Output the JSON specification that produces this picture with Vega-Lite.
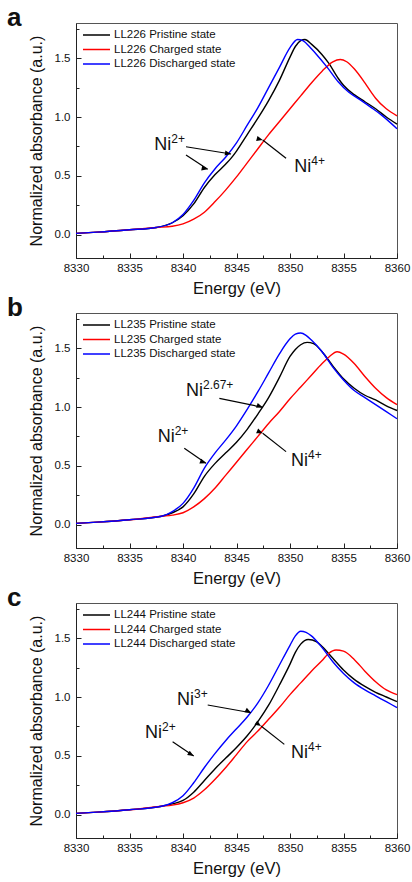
{
"$schema": "https://vega.github.io/schema/vega-lite/v6.json",
"padding": {"left": 6, "top": 4, "right": 4, "bottom": 2},
"bounds": "flush",
"spacing": 55,
"config": {
  "font": "Liberation Sans",
  "view": {"stroke": "#555", "strokeWidth": 1},
  "axis": {"grid": false, "domainColor": "#222", "tickColor": "#222", "labelColor": "#111", "titleColor": "#111", "labelFontSize": 11.5, "titleFontWeight": "normal", "labelFlush": false},
  "legend": {"orient": "top-left", "offset": 6, "title": null, "symbolType": "stroke", "symbolSize": 729, "symbolStrokeWidth": 1.5, "labelFontSize": 11.5, "labelColor": "#111", "labelOffset": 3, "rowPadding": 2.5, "clipHeight": 12, "padding": 0},
  "title": {"fontSize": 26, "fontWeight": "bold", "anchor": "start", "frame": "group", "color": "#111"},
  "line": {"strokeWidth": 1.4, "interpolate": "monotone"}
},
"resolve": {"scale": {"color": "independent"}, "legend": {"color": "independent"}},
"datasets": {
  "curves": [
    {"p":"a","s":"LL226 Pristine state","E":8330,"A":0.01},{"p":"a","s":"LL226 Pristine state","E":8332,"A":0.02},{"p":"a","s":"LL226 Pristine state","E":8335,"A":0.04},{"p":"a","s":"LL226 Pristine state","E":8337.5,"A":0.06},{"p":"a","s":"LL226 Pristine state","E":8339,"A":0.10},{"p":"a","s":"LL226 Pristine state","E":8340,"A":0.16},{"p":"a","s":"LL226 Pristine state","E":8341,"A":0.26},{"p":"a","s":"LL226 Pristine state","E":8342,"A":0.40},{"p":"a","s":"LL226 Pristine state","E":8343,"A":0.51},{"p":"a","s":"LL226 Pristine state","E":8344,"A":0.60},{"p":"a","s":"LL226 Pristine state","E":8344.5,"A":0.65},{"p":"a","s":"LL226 Pristine state","E":8345,"A":0.71},{"p":"a","s":"LL226 Pristine state","E":8346,"A":0.85},{"p":"a","s":"LL226 Pristine state","E":8347,"A":0.99},{"p":"a","s":"LL226 Pristine state","E":8348,"A":1.14},{"p":"a","s":"LL226 Pristine state","E":8349,"A":1.31},{"p":"a","s":"LL226 Pristine state","E":8350,"A":1.51},{"p":"a","s":"LL226 Pristine state","E":8350.5,"A":1.60},{"p":"a","s":"LL226 Pristine state","E":8351,"A":1.65},{"p":"a","s":"LL226 Pristine state","E":8351.4,"A":1.66},{"p":"a","s":"LL226 Pristine state","E":8352,"A":1.62},{"p":"a","s":"LL226 Pristine state","E":8353,"A":1.53},{"p":"a","s":"LL226 Pristine state","E":8353.6,"A":1.46},{"p":"a","s":"LL226 Pristine state","E":8354.5,"A":1.33},{"p":"a","s":"LL226 Pristine state","E":8355,"A":1.27},{"p":"a","s":"LL226 Pristine state","E":8356,"A":1.19},{"p":"a","s":"LL226 Pristine state","E":8357,"A":1.13},{"p":"a","s":"LL226 Pristine state","E":8358,"A":1.07},{"p":"a","s":"LL226 Pristine state","E":8359,"A":1.00},{"p":"a","s":"LL226 Pristine state","E":8360,"A":0.94},
    {"p":"a","s":"LL226 Charged state","E":8330,"A":0.01},{"p":"a","s":"LL226 Charged state","E":8332,"A":0.02},{"p":"a","s":"LL226 Charged state","E":8335,"A":0.04},{"p":"a","s":"LL226 Charged state","E":8337.5,"A":0.06},{"p":"a","s":"LL226 Charged state","E":8339,"A":0.07},{"p":"a","s":"LL226 Charged state","E":8340,"A":0.09},{"p":"a","s":"LL226 Charged state","E":8341,"A":0.13},{"p":"a","s":"LL226 Charged state","E":8342,"A":0.19},{"p":"a","s":"LL226 Charged state","E":8343,"A":0.28},{"p":"a","s":"LL226 Charged state","E":8344,"A":0.38},{"p":"a","s":"LL226 Charged state","E":8345,"A":0.49},{"p":"a","s":"LL226 Charged state","E":8346,"A":0.61},{"p":"a","s":"LL226 Charged state","E":8347,"A":0.73},{"p":"a","s":"LL226 Charged state","E":8348,"A":0.85},{"p":"a","s":"LL226 Charged state","E":8349,"A":0.96},{"p":"a","s":"LL226 Charged state","E":8350,"A":1.07},{"p":"a","s":"LL226 Charged state","E":8351,"A":1.18},{"p":"a","s":"LL226 Charged state","E":8352,"A":1.29},{"p":"a","s":"LL226 Charged state","E":8353,"A":1.39},{"p":"a","s":"LL226 Charged state","E":8354,"A":1.47},{"p":"a","s":"LL226 Charged state","E":8354.7,"A":1.49},{"p":"a","s":"LL226 Charged state","E":8355.3,"A":1.47},{"p":"a","s":"LL226 Charged state","E":8356,"A":1.41},{"p":"a","s":"LL226 Charged state","E":8357,"A":1.29},{"p":"a","s":"LL226 Charged state","E":8357.6,"A":1.21},{"p":"a","s":"LL226 Charged state","E":8358,"A":1.16},{"p":"a","s":"LL226 Charged state","E":8359,"A":1.07},{"p":"a","s":"LL226 Charged state","E":8360,"A":1.01},
    {"p":"a","s":"LL226 Discharged state","E":8330,"A":0.01},{"p":"a","s":"LL226 Discharged state","E":8332,"A":0.02},{"p":"a","s":"LL226 Discharged state","E":8335,"A":0.04},{"p":"a","s":"LL226 Discharged state","E":8337.5,"A":0.06},{"p":"a","s":"LL226 Discharged state","E":8339,"A":0.10},{"p":"a","s":"LL226 Discharged state","E":8340,"A":0.17},{"p":"a","s":"LL226 Discharged state","E":8341,"A":0.29},{"p":"a","s":"LL226 Discharged state","E":8342,"A":0.44},{"p":"a","s":"LL226 Discharged state","E":8343,"A":0.56},{"p":"a","s":"LL226 Discharged state","E":8344,"A":0.66},{"p":"a","s":"LL226 Discharged state","E":8345,"A":0.78},{"p":"a","s":"LL226 Discharged state","E":8346,"A":0.93},{"p":"a","s":"LL226 Discharged state","E":8347,"A":1.08},{"p":"a","s":"LL226 Discharged state","E":8348,"A":1.25},{"p":"a","s":"LL226 Discharged state","E":8349,"A":1.42},{"p":"a","s":"LL226 Discharged state","E":8350,"A":1.59},{"p":"a","s":"LL226 Discharged state","E":8350.7,"A":1.66},{"p":"a","s":"LL226 Discharged state","E":8351.2,"A":1.65},{"p":"a","s":"LL226 Discharged state","E":8352,"A":1.58},{"p":"a","s":"LL226 Discharged state","E":8352.5,"A":1.53},{"p":"a","s":"LL226 Discharged state","E":8353.5,"A":1.42},{"p":"a","s":"LL226 Discharged state","E":8354.5,"A":1.30},{"p":"a","s":"LL226 Discharged state","E":8355.5,"A":1.21},{"p":"a","s":"LL226 Discharged state","E":8356.5,"A":1.15},{"p":"a","s":"LL226 Discharged state","E":8357.6,"A":1.08},{"p":"a","s":"LL226 Discharged state","E":8358.5,"A":1.02},{"p":"a","s":"LL226 Discharged state","E":8360,"A":0.90},
    {"p":"b","s":"LL235 Pristine state","E":8330,"A":0.01},{"p":"b","s":"LL235 Pristine state","E":8332,"A":0.02},{"p":"b","s":"LL235 Pristine state","E":8335,"A":0.04},{"p":"b","s":"LL235 Pristine state","E":8338,"A":0.07},{"p":"b","s":"LL235 Pristine state","E":8339,"A":0.10},{"p":"b","s":"LL235 Pristine state","E":8340,"A":0.15},{"p":"b","s":"LL235 Pristine state","E":8341,"A":0.26},{"p":"b","s":"LL235 Pristine state","E":8342,"A":0.41},{"p":"b","s":"LL235 Pristine state","E":8343,"A":0.52},{"p":"b","s":"LL235 Pristine state","E":8344,"A":0.61},{"p":"b","s":"LL235 Pristine state","E":8345,"A":0.70},{"p":"b","s":"LL235 Pristine state","E":8346,"A":0.81},{"p":"b","s":"LL235 Pristine state","E":8347,"A":0.94},{"p":"b","s":"LL235 Pristine state","E":8348,"A":1.08},{"p":"b","s":"LL235 Pristine state","E":8349,"A":1.25},{"p":"b","s":"LL235 Pristine state","E":8350,"A":1.43},{"p":"b","s":"LL235 Pristine state","E":8350.5,"A":1.49},{"p":"b","s":"LL235 Pristine state","E":8351,"A":1.53},{"p":"b","s":"LL235 Pristine state","E":8351.6,"A":1.55},{"p":"b","s":"LL235 Pristine state","E":8352.2,"A":1.54},{"p":"b","s":"LL235 Pristine state","E":8353,"A":1.47},{"p":"b","s":"LL235 Pristine state","E":8354,"A":1.35},{"p":"b","s":"LL235 Pristine state","E":8355,"A":1.24},{"p":"b","s":"LL235 Pristine state","E":8356,"A":1.16},{"p":"b","s":"LL235 Pristine state","E":8357,"A":1.10},{"p":"b","s":"LL235 Pristine state","E":8358,"A":1.06},{"p":"b","s":"LL235 Pristine state","E":8359,"A":1.01},{"p":"b","s":"LL235 Pristine state","E":8360,"A":0.97},
    {"p":"b","s":"LL235 Charged state","E":8330,"A":0.01},{"p":"b","s":"LL235 Charged state","E":8332,"A":0.02},{"p":"b","s":"LL235 Charged state","E":8335,"A":0.04},{"p":"b","s":"LL235 Charged state","E":8338,"A":0.07},{"p":"b","s":"LL235 Charged state","E":8339,"A":0.08},{"p":"b","s":"LL235 Charged state","E":8340,"A":0.10},{"p":"b","s":"LL235 Charged state","E":8341,"A":0.15},{"p":"b","s":"LL235 Charged state","E":8342,"A":0.22},{"p":"b","s":"LL235 Charged state","E":8343,"A":0.31},{"p":"b","s":"LL235 Charged state","E":8344,"A":0.42},{"p":"b","s":"LL235 Charged state","E":8345,"A":0.53},{"p":"b","s":"LL235 Charged state","E":8346,"A":0.64},{"p":"b","s":"LL235 Charged state","E":8347,"A":0.75},{"p":"b","s":"LL235 Charged state","E":8348,"A":0.86},{"p":"b","s":"LL235 Charged state","E":8349,"A":0.96},{"p":"b","s":"LL235 Charged state","E":8350,"A":1.07},{"p":"b","s":"LL235 Charged state","E":8351,"A":1.17},{"p":"b","s":"LL235 Charged state","E":8352,"A":1.27},{"p":"b","s":"LL235 Charged state","E":8353,"A":1.37},{"p":"b","s":"LL235 Charged state","E":8353.7,"A":1.43},{"p":"b","s":"LL235 Charged state","E":8354.4,"A":1.47},{"p":"b","s":"LL235 Charged state","E":8355,"A":1.45},{"p":"b","s":"LL235 Charged state","E":8356,"A":1.37},{"p":"b","s":"LL235 Charged state","E":8357,"A":1.26},{"p":"b","s":"LL235 Charged state","E":8358,"A":1.16},{"p":"b","s":"LL235 Charged state","E":8359,"A":1.08},{"p":"b","s":"LL235 Charged state","E":8360,"A":1.02},
    {"p":"b","s":"LL235 Discharged state","E":8330,"A":0.01},{"p":"b","s":"LL235 Discharged state","E":8332,"A":0.02},{"p":"b","s":"LL235 Discharged state","E":8335,"A":0.04},{"p":"b","s":"LL235 Discharged state","E":8338,"A":0.07},{"p":"b","s":"LL235 Discharged state","E":8339,"A":0.11},{"p":"b","s":"LL235 Discharged state","E":8340,"A":0.18},{"p":"b","s":"LL235 Discharged state","E":8341,"A":0.31},{"p":"b","s":"LL235 Discharged state","E":8342,"A":0.48},{"p":"b","s":"LL235 Discharged state","E":8343,"A":0.61},{"p":"b","s":"LL235 Discharged state","E":8344,"A":0.72},{"p":"b","s":"LL235 Discharged state","E":8345,"A":0.84},{"p":"b","s":"LL235 Discharged state","E":8346,"A":0.98},{"p":"b","s":"LL235 Discharged state","E":8347,"A":1.13},{"p":"b","s":"LL235 Discharged state","E":8348,"A":1.29},{"p":"b","s":"LL235 Discharged state","E":8349,"A":1.45},{"p":"b","s":"LL235 Discharged state","E":8350,"A":1.58},{"p":"b","s":"LL235 Discharged state","E":8350.5,"A":1.62},{"p":"b","s":"LL235 Discharged state","E":8351,"A":1.63},{"p":"b","s":"LL235 Discharged state","E":8351.5,"A":1.61},{"p":"b","s":"LL235 Discharged state","E":8352,"A":1.57},{"p":"b","s":"LL235 Discharged state","E":8353,"A":1.47},{"p":"b","s":"LL235 Discharged state","E":8354,"A":1.34},{"p":"b","s":"LL235 Discharged state","E":8355,"A":1.23},{"p":"b","s":"LL235 Discharged state","E":8356,"A":1.14},{"p":"b","s":"LL235 Discharged state","E":8357,"A":1.08},{"p":"b","s":"LL235 Discharged state","E":8358,"A":1.02},{"p":"b","s":"LL235 Discharged state","E":8359,"A":0.96},{"p":"b","s":"LL235 Discharged state","E":8360,"A":0.90},
    {"p":"c","s":"LL244 Pristine state","E":8330,"A":0.01},{"p":"c","s":"LL244 Pristine state","E":8332,"A":0.02},{"p":"c","s":"LL244 Pristine state","E":8335,"A":0.04},{"p":"c","s":"LL244 Pristine state","E":8338,"A":0.07},{"p":"c","s":"LL244 Pristine state","E":8339,"A":0.09},{"p":"c","s":"LL244 Pristine state","E":8340,"A":0.12},{"p":"c","s":"LL244 Pristine state","E":8341,"A":0.19},{"p":"c","s":"LL244 Pristine state","E":8342,"A":0.29},{"p":"c","s":"LL244 Pristine state","E":8343,"A":0.39},{"p":"c","s":"LL244 Pristine state","E":8344,"A":0.48},{"p":"c","s":"LL244 Pristine state","E":8345,"A":0.57},{"p":"c","s":"LL244 Pristine state","E":8346,"A":0.67},{"p":"c","s":"LL244 Pristine state","E":8347,"A":0.79},{"p":"c","s":"LL244 Pristine state","E":8348,"A":0.93},{"p":"c","s":"LL244 Pristine state","E":8349,"A":1.10},{"p":"c","s":"LL244 Pristine state","E":8350,"A":1.28},{"p":"c","s":"LL244 Pristine state","E":8350.5,"A":1.38},{"p":"c","s":"LL244 Pristine state","E":8351,"A":1.45},{"p":"c","s":"LL244 Pristine state","E":8351.7,"A":1.49},{"p":"c","s":"LL244 Pristine state","E":8352.5,"A":1.47},{"p":"c","s":"LL244 Pristine state","E":8353,"A":1.43},{"p":"c","s":"LL244 Pristine state","E":8354,"A":1.33},{"p":"c","s":"LL244 Pristine state","E":8355,"A":1.23},{"p":"c","s":"LL244 Pristine state","E":8356,"A":1.15},{"p":"c","s":"LL244 Pristine state","E":8357,"A":1.09},{"p":"c","s":"LL244 Pristine state","E":8358,"A":1.04},{"p":"c","s":"LL244 Pristine state","E":8359,"A":1.00},{"p":"c","s":"LL244 Pristine state","E":8360,"A":0.96},
    {"p":"c","s":"LL244 Charged state","E":8330,"A":0.01},{"p":"c","s":"LL244 Charged state","E":8332,"A":0.02},{"p":"c","s":"LL244 Charged state","E":8335,"A":0.04},{"p":"c","s":"LL244 Charged state","E":8338,"A":0.07},{"p":"c","s":"LL244 Charged state","E":8339,"A":0.08},{"p":"c","s":"LL244 Charged state","E":8340,"A":0.10},{"p":"c","s":"LL244 Charged state","E":8341,"A":0.14},{"p":"c","s":"LL244 Charged state","E":8342,"A":0.21},{"p":"c","s":"LL244 Charged state","E":8343,"A":0.30},{"p":"c","s":"LL244 Charged state","E":8344,"A":0.40},{"p":"c","s":"LL244 Charged state","E":8345,"A":0.51},{"p":"c","s":"LL244 Charged state","E":8346,"A":0.62},{"p":"c","s":"LL244 Charged state","E":8347,"A":0.71},{"p":"c","s":"LL244 Charged state","E":8348,"A":0.81},{"p":"c","s":"LL244 Charged state","E":8349,"A":0.91},{"p":"c","s":"LL244 Charged state","E":8350,"A":1.02},{"p":"c","s":"LL244 Charged state","E":8351,"A":1.12},{"p":"c","s":"LL244 Charged state","E":8352,"A":1.22},{"p":"c","s":"LL244 Charged state","E":8353,"A":1.31},{"p":"c","s":"LL244 Charged state","E":8353.6,"A":1.37},{"p":"c","s":"LL244 Charged state","E":8354.3,"A":1.40},{"p":"c","s":"LL244 Charged state","E":8355,"A":1.39},{"p":"c","s":"LL244 Charged state","E":8356,"A":1.32},{"p":"c","s":"LL244 Charged state","E":8357,"A":1.22},{"p":"c","s":"LL244 Charged state","E":8358,"A":1.13},{"p":"c","s":"LL244 Charged state","E":8359,"A":1.06},{"p":"c","s":"LL244 Charged state","E":8360,"A":1.02},
    {"p":"c","s":"LL244 Discharged state","E":8330,"A":0.01},{"p":"c","s":"LL244 Discharged state","E":8332,"A":0.02},{"p":"c","s":"LL244 Discharged state","E":8335,"A":0.04},{"p":"c","s":"LL244 Discharged state","E":8338,"A":0.07},{"p":"c","s":"LL244 Discharged state","E":8339,"A":0.10},{"p":"c","s":"LL244 Discharged state","E":8340,"A":0.16},{"p":"c","s":"LL244 Discharged state","E":8341,"A":0.27},{"p":"c","s":"LL244 Discharged state","E":8342,"A":0.40},{"p":"c","s":"LL244 Discharged state","E":8343,"A":0.52},{"p":"c","s":"LL244 Discharged state","E":8344,"A":0.63},{"p":"c","s":"LL244 Discharged state","E":8345,"A":0.73},{"p":"c","s":"LL244 Discharged state","E":8346,"A":0.83},{"p":"c","s":"LL244 Discharged state","E":8347,"A":0.95},{"p":"c","s":"LL244 Discharged state","E":8348,"A":1.10},{"p":"c","s":"LL244 Discharged state","E":8349,"A":1.27},{"p":"c","s":"LL244 Discharged state","E":8350,"A":1.44},{"p":"c","s":"LL244 Discharged state","E":8350.5,"A":1.52},{"p":"c","s":"LL244 Discharged state","E":8351,"A":1.56},{"p":"c","s":"LL244 Discharged state","E":8351.5,"A":1.55},{"p":"c","s":"LL244 Discharged state","E":8352,"A":1.52},{"p":"c","s":"LL244 Discharged state","E":8353,"A":1.42},{"p":"c","s":"LL244 Discharged state","E":8354,"A":1.30},{"p":"c","s":"LL244 Discharged state","E":8355,"A":1.20},{"p":"c","s":"LL244 Discharged state","E":8356,"A":1.12},{"p":"c","s":"LL244 Discharged state","E":8357,"A":1.06},{"p":"c","s":"LL244 Discharged state","E":8358,"A":1.01},{"p":"c","s":"LL244 Discharged state","E":8359,"A":0.96},{"p":"c","s":"LL244 Discharged state","E":8360,"A":0.91}
  ],
  "arrows": [
    {"p":"a","id":"a1","x":8340.28,"y":0.747,"x2":8344.49,"y2":0.685},
    {"p":"a","id":"a2","x":8340.28,"y":0.677,"x2":8342.31,"y2":0.555},
    {"p":"a","id":"a3","x":8349.63,"y":0.649,"x2":8347.45,"y2":0.804},
    {"p":"b","id":"b1","x":8343.40,"y":1.074,"x2":8347.45,"y2":0.997},
    {"p":"b","id":"b2","x":8340.12,"y":0.649,"x2":8342.15,"y2":0.521},
    {"p":"b","id":"b3","x":8349.63,"y":0.620,"x2":8347.45,"y2":0.776},
    {"p":"c","id":"c1","x":8342.31,"y":0.932,"x2":8346.36,"y2":0.866},
    {"p":"c","id":"c2","x":8339.03,"y":0.620,"x2":8341.00,"y2":0.498},
    {"p":"c","id":"c3","x":8349.47,"y":0.597,"x2":8347.29,"y2":0.753}
  ],
  "labels": [
    {"p":"a","x":8337.32,"y":0.719,"base":"Ni","sup":"2+"},
    {"p":"a","x":8350.40,"y":0.534,"base":"Ni","sup":"4+"},
    {"p":"b","x":8340.28,"y":1.094,"base":"Ni","sup":"2.67+"},
    {"p":"b","x":8337.63,"y":0.698,"base":"Ni","sup":"2+"},
    {"p":"b","x":8350.09,"y":0.502,"base":"Ni","sup":"4+"},
    {"p":"c","x":8339.44,"y":0.932,"base":"Ni","sup":"3+"},
    {"p":"c","x":8336.45,"y":0.654,"base":"Ni","sup":"2+"},
    {"p":"c","x":8350.09,"y":0.483,"base":"Ni","sup":"4+"}
  ]
},
"vconcat": [
  {
    "width": 321, "height": 235,
    "title": {"text": "a", "dx": -69, "offset": -29, "baseline": "alphabetic"},
    "resolve": {"axis": {"x": "independent", "y": "independent"}},
    "layer": [
      {"data": {"name": "curves"}, "transform": [{"filter": "datum.p == 'a'"}],
       "mark": {"type": "line"},
       "encoding": {
         "x": {"field": "E", "type": "quantitative", "scale": {"domain": [8330, 8360], "nice": false, "zero": false},
               "axis": {"orient": "bottom", "title": "Energy (eV)", "values": [8330, 8335, 8340, 8345, 8350, 8355, 8360], "format": "d", "tickSize": -5, "labelPadding": 9, "titleFontSize": 16.5, "titlePadding": 7}},
         "y": {"field": "A", "type": "quantitative", "scale": {"domain": [-0.2, 1.8], "nice": false, "zero": false},
               "axis": {"orient": "left", "title": "Normalized absorbance (a.u.)", "values": [0, 0.5, 1, 1.5], "format": ".1f", "tickSize": -5, "labelPadding": 11, "titleFontSize": 16, "titlePadding": 10}},
         "color": {"field": "s", "type": "nominal", "sort": null,
                   "scale": {"domain": ["LL226 Pristine state", "LL226 Charged state", "LL226 Discharged state"], "range": ["#000000", "#ff0000", "#0000ff"]}}
       }},
      {"data": {"name": "labels"}, "transform": [{"filter": "datum.p == 'a'"}],
       "mark": {"type": "point", "opacity": 0},
       "encoding": {
         "x": {"field": "x", "type": "quantitative", "axis": {"orient": "bottom", "values": [8332.5, 8337.5, 8342.5, 8347.5, 8352.5, 8357.5], "tickSize": -3, "labels": false, "domain": false, "title": null}},
         "y": {"field": "y", "type": "quantitative", "axis": {"orient": "left", "values": [0.25, 0.75, 1.25, 1.75], "tickSize": -3, "labels": false, "domain": false, "title": null}}
       }},
      {"data": {"name": "arrows"}, "transform": [{"filter": "datum.p == 'a'"}],
       "mark": {"type": "rule", "color": "#000", "strokeWidth": 1.2},
       "encoding": {"x": {"field": "x", "type": "quantitative", "axis": null}, "y": {"field": "y", "type": "quantitative", "axis": null}, "x2": {"field": "x2"}, "y2": {"field": "y2"}}},
      {"data": {"name": "arrows"}, "transform": [{"filter": "datum.p == 'a'"}],
       "mark": {"type": "point", "shape": "M0,0L-1,-0.42L-1,0.42Z", "filled": true, "color": "#000", "opacity": 1, "size": 150},
       "encoding": {"x": {"field": "x2", "type": "quantitative", "axis": null}, "y": {"field": "y2", "type": "quantitative", "axis": null},
                    "angle": {"field": "id", "type": "nominal", "scale": {"domain": ["a1", "a2", "a3"], "range": [9.2, 33.4, 218.1]}, "legend": null}}},
      {"data": {"name": "labels"}, "transform": [{"filter": "datum.p == 'a'"}],
       "mark": {"type": "text", "align": "left", "baseline": "alphabetic", "fontSize": 18, "color": "#111"},
       "encoding": {"x": {"field": "x", "type": "quantitative", "axis": null}, "y": {"field": "y", "type": "quantitative", "axis": null}, "text": {"field": "base"}}},
      {"data": {"name": "labels"}, "transform": [{"filter": "datum.p == 'a'"}],
       "mark": {"type": "text", "align": "left", "baseline": "alphabetic", "fontSize": 12, "dx": 17, "dy": -7, "color": "#111"},
       "encoding": {"x": {"field": "x", "type": "quantitative", "axis": null}, "y": {"field": "y", "type": "quantitative", "axis": null}, "text": {"field": "sup"}}}
    ]
  },
  {
    "width": 321, "height": 235,
    "title": {"text": "b", "dx": -69, "offset": -29, "baseline": "alphabetic"},
    "resolve": {"axis": {"x": "independent", "y": "independent"}},
    "layer": [
      {"data": {"name": "curves"}, "transform": [{"filter": "datum.p == 'b'"}],
       "mark": {"type": "line"},
       "encoding": {
         "x": {"field": "E", "type": "quantitative", "scale": {"domain": [8330, 8360], "nice": false, "zero": false},
               "axis": {"orient": "bottom", "title": "Energy (eV)", "values": [8330, 8335, 8340, 8345, 8350, 8355, 8360], "format": "d", "tickSize": -5, "labelPadding": 9, "titleFontSize": 16.5, "titlePadding": 7}},
         "y": {"field": "A", "type": "quantitative", "scale": {"domain": [-0.2, 1.8], "nice": false, "zero": false},
               "axis": {"orient": "left", "title": "Normalized absorbance (a.u.)", "values": [0, 0.5, 1, 1.5], "format": ".1f", "tickSize": -5, "labelPadding": 11, "titleFontSize": 16, "titlePadding": 10}},
         "color": {"field": "s", "type": "nominal", "sort": null,
                   "scale": {"domain": ["LL235 Pristine state", "LL235 Charged state", "LL235 Discharged state"], "range": ["#000000", "#ff0000", "#0000ff"]}}
       }},
      {"data": {"name": "labels"}, "transform": [{"filter": "datum.p == 'b'"}],
       "mark": {"type": "point", "opacity": 0},
       "encoding": {
         "x": {"field": "x", "type": "quantitative", "axis": {"orient": "bottom", "values": [8332.5, 8337.5, 8342.5, 8347.5, 8352.5, 8357.5], "tickSize": -3, "labels": false, "domain": false, "title": null}},
         "y": {"field": "y", "type": "quantitative", "axis": {"orient": "left", "values": [0.25, 0.75, 1.25, 1.75], "tickSize": -3, "labels": false, "domain": false, "title": null}}
       }},
      {"data": {"name": "arrows"}, "transform": [{"filter": "datum.p == 'b'"}],
       "mark": {"type": "rule", "color": "#000", "strokeWidth": 1.2},
       "encoding": {"x": {"field": "x", "type": "quantitative", "axis": null}, "y": {"field": "y", "type": "quantitative", "axis": null}, "x2": {"field": "x2"}, "y2": {"field": "y2"}}},
      {"data": {"name": "arrows"}, "transform": [{"filter": "datum.p == 'b'"}],
       "mark": {"type": "point", "shape": "M0,0L-1,-0.42L-1,0.42Z", "filled": true, "color": "#000", "opacity": 1, "size": 150},
       "encoding": {"x": {"field": "x2", "type": "quantitative", "axis": null}, "y": {"field": "y2", "type": "quantitative", "axis": null},
                    "angle": {"field": "id", "type": "nominal", "scale": {"domain": ["b1", "b2", "b3"], "range": [11.7, 34.7, 218.3]}, "legend": null}}},
      {"data": {"name": "labels"}, "transform": [{"filter": "datum.p == 'b'"}],
       "mark": {"type": "text", "align": "left", "baseline": "alphabetic", "fontSize": 18, "color": "#111"},
       "encoding": {"x": {"field": "x", "type": "quantitative", "axis": null}, "y": {"field": "y", "type": "quantitative", "axis": null}, "text": {"field": "base"}}},
      {"data": {"name": "labels"}, "transform": [{"filter": "datum.p == 'b'"}],
       "mark": {"type": "text", "align": "left", "baseline": "alphabetic", "fontSize": 12, "dx": 17, "dy": -7, "color": "#111"},
       "encoding": {"x": {"field": "x", "type": "quantitative", "axis": null}, "y": {"field": "y", "type": "quantitative", "axis": null}, "text": {"field": "sup"}}}
    ]
  },
  {
    "width": 321, "height": 235,
    "title": {"text": "c", "dx": -69, "offset": -29, "baseline": "alphabetic"},
    "resolve": {"axis": {"x": "independent", "y": "independent"}},
    "layer": [
      {"data": {"name": "curves"}, "transform": [{"filter": "datum.p == 'c'"}],
       "mark": {"type": "line"},
       "encoding": {
         "x": {"field": "E", "type": "quantitative", "scale": {"domain": [8330, 8360], "nice": false, "zero": false},
               "axis": {"orient": "bottom", "title": "Energy (eV)", "values": [8330, 8335, 8340, 8345, 8350, 8355, 8360], "format": "d", "tickSize": -5, "labelPadding": 9, "titleFontSize": 16.5, "titlePadding": 7}},
         "y": {"field": "A", "type": "quantitative", "scale": {"domain": [-0.2, 1.8], "nice": false, "zero": false},
               "axis": {"orient": "left", "title": "Normalized absorbance (a.u.)", "values": [0, 0.5, 1, 1.5], "format": ".1f", "tickSize": -5, "labelPadding": 11, "titleFontSize": 16, "titlePadding": 10}},
         "color": {"field": "s", "type": "nominal", "sort": null,
                   "scale": {"domain": ["LL244 Pristine state", "LL244 Charged state", "LL244 Discharged state"], "range": ["#000000", "#ff0000", "#0000ff"]}}
       }},
      {"data": {"name": "labels"}, "transform": [{"filter": "datum.p == 'c'"}],
       "mark": {"type": "point", "opacity": 0},
       "encoding": {
         "x": {"field": "x", "type": "quantitative", "axis": {"orient": "bottom", "values": [8332.5, 8337.5, 8342.5, 8347.5, 8352.5, 8357.5], "tickSize": -3, "labels": false, "domain": false, "title": null}},
         "y": {"field": "y", "type": "quantitative", "axis": {"orient": "left", "values": [0.25, 0.75, 1.25, 1.75], "tickSize": -3, "labels": false, "domain": false, "title": null}}
       }},
      {"data": {"name": "arrows"}, "transform": [{"filter": "datum.p == 'c'"}],
       "mark": {"type": "rule", "color": "#000", "strokeWidth": 1.2},
       "encoding": {"x": {"field": "x", "type": "quantitative", "axis": null}, "y": {"field": "y", "type": "quantitative", "axis": null}, "x2": {"field": "x2"}, "y2": {"field": "y2"}}},
      {"data": {"name": "arrows"}, "transform": [{"filter": "datum.p == 'c'"}],
       "mark": {"type": "point", "shape": "M0,0L-1,-0.42L-1,0.42Z", "filled": true, "color": "#000", "opacity": 1, "size": 150},
       "encoding": {"x": {"field": "x2", "type": "quantitative", "axis": null}, "y": {"field": "y2", "type": "quantitative", "axis": null},
                    "angle": {"field": "id", "type": "nominal", "scale": {"domain": ["c1", "c2", "c3"], "range": [10.1, 34.3, 218.2]}, "legend": null}}},
      {"data": {"name": "labels"}, "transform": [{"filter": "datum.p == 'c'"}],
       "mark": {"type": "text", "align": "left", "baseline": "alphabetic", "fontSize": 18, "color": "#111"},
       "encoding": {"x": {"field": "x", "type": "quantitative", "axis": null}, "y": {"field": "y", "type": "quantitative", "axis": null}, "text": {"field": "base"}}},
      {"data": {"name": "labels"}, "transform": [{"filter": "datum.p == 'c'"}],
       "mark": {"type": "text", "align": "left", "baseline": "alphabetic", "fontSize": 12, "dx": 17, "dy": -7, "color": "#111"},
       "encoding": {"x": {"field": "x", "type": "quantitative", "axis": null}, "y": {"field": "y", "type": "quantitative", "axis": null}, "text": {"field": "sup"}}}
    ]
  }
]
}
